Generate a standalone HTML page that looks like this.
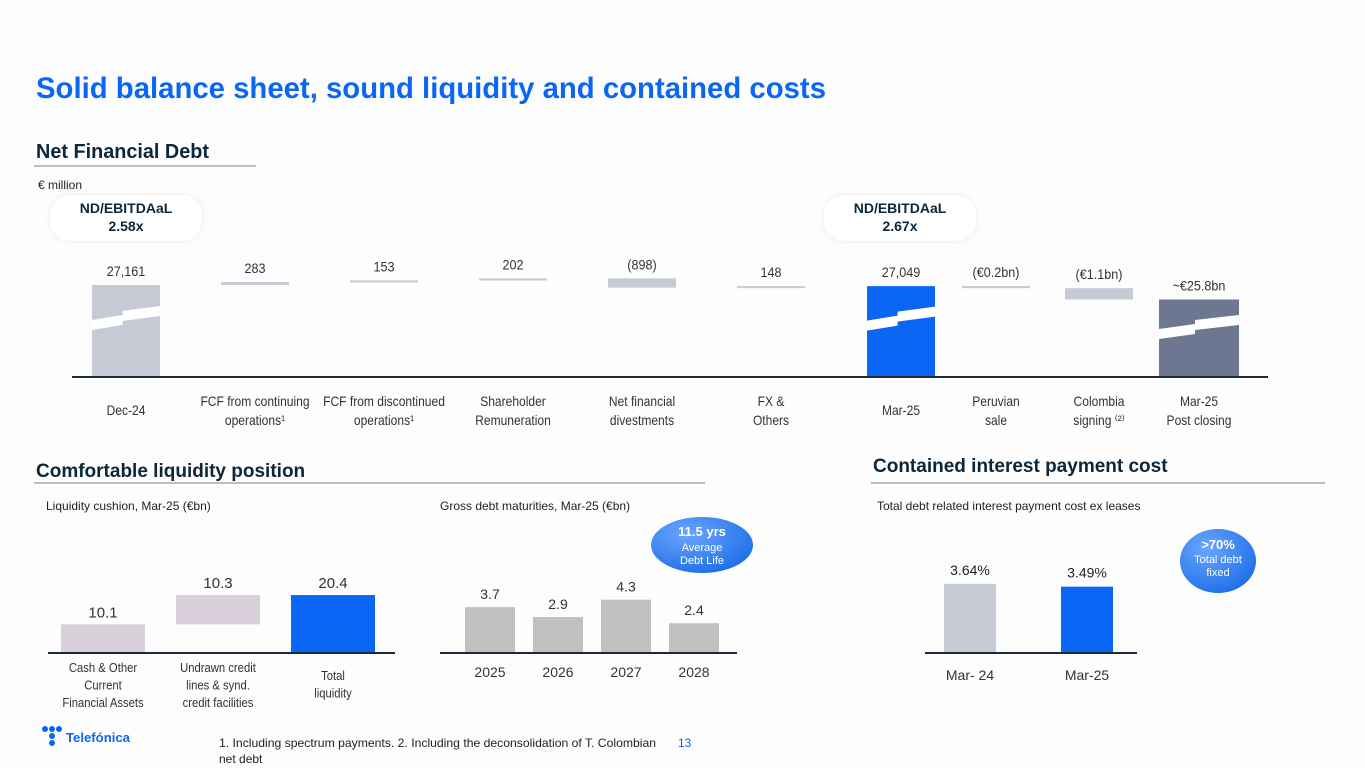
<!DOCTYPE html>
<html><head><meta charset="utf-8"><style>
html,body{margin:0;padding:0;background:#fdfdfd;}
svg{display:block;font-family:"Liberation Sans",sans-serif;}
</style></head><body>
<svg id="s" width="1365" height="768" viewBox="0 0 1365 768">
<defs>
<radialGradient id="bub" cx="35%" cy="30%" r="75%"><stop offset="0" stop-color="#6aa6ff"/><stop offset="1" stop-color="#1f6fe8"/></radialGradient>
<filter id="sh" x="-20%" y="-40%" width="140%" height="180%"><feDropShadow dx="0" dy="0" stdDeviation="3" flood-color="#000" flood-opacity="0.08"/></filter>
</defs>
<text x="36" y="98" font-size="30" font-weight="bold" fill="#0b66f5" textLength="790" lengthAdjust="spacingAndGlyphs">Solid balance sheet, sound liquidity and contained costs</text>
<text x="36" y="158" font-size="20" font-weight="bold" fill="#0b2739" textLength="173" lengthAdjust="spacingAndGlyphs">Net Financial Debt</text>
<line x1="34" y1="166" x2="256" y2="166" stroke="#999" stroke-width="1.2"/>
<text x="38" y="189" font-size="12" fill="#222">€ million</text>
<g filter="url(#sh)">
<rect x="50" y="195" width="152" height="46" rx="20" fill="#fff"/>
<rect x="824" y="195" width="152" height="46" rx="20" fill="#fff"/>
</g>
<text x="126" y="213" font-size="14" font-weight="bold" fill="#0b2739" text-anchor="middle">ND/EBITDAaL</text>
<text x="126" y="231" font-size="14" font-weight="bold" fill="#0b2739" text-anchor="middle">2.58x</text>
<text x="900" y="213" font-size="14" font-weight="bold" fill="#0b2739" text-anchor="middle">ND/EBITDAaL</text>
<text x="900" y="231" font-size="14" font-weight="bold" fill="#0b2739" text-anchor="middle">2.67x</text>
<g id="wf"></g>
<line x1="72" y1="377" x2="1268" y2="377" stroke="#1c2b3a" stroke-width="2"/>

<text x="36" y="477" font-size="19" font-weight="bold" fill="#0b2739">Comfortable liquidity position</text>
<line x1="34" y1="483" x2="705" y2="483" stroke="#999" stroke-width="1.2"/>
<text x="873" y="472" font-size="19" font-weight="bold" fill="#0b2739">Contained interest payment cost</text>
<line x1="871" y1="483" x2="1325" y2="483" stroke="#999" stroke-width="1.2"/>
<text x="46" y="510" font-size="12" fill="#222">Liquidity cushion, Mar-25 (€bn)</text>
<text x="440" y="510" font-size="12" fill="#222">Gross debt maturities, Mar-25 (€bn)</text>
<text x="877" y="510" font-size="12" fill="#222">Total debt related interest payment cost ex leases</text>
<g id="liq"></g><g id="mat"></g><g id="int"></g>
<line x1="48" y1="653" x2="395" y2="653" stroke="#1c2b3a" stroke-width="2"/>
<line x1="440" y1="653" x2="737" y2="653" stroke="#1c2b3a" stroke-width="2"/>
<line x1="925" y1="653" x2="1137" y2="653" stroke="#1c2b3a" stroke-width="2"/>
<ellipse cx="702" cy="545" rx="51" ry="28" fill="url(#bub)"/>
<text x="702" y="536" font-size="13" font-weight="bold" fill="#fff" text-anchor="middle">11.5 yrs</text>
<text x="702" y="551" font-size="11" fill="#fff" text-anchor="middle">Average</text>
<text x="702" y="564" font-size="11" fill="#fff" text-anchor="middle">Debt Life</text>
<ellipse cx="1218" cy="561" rx="38" ry="32" fill="url(#bub)"/>
<text x="1218" y="549" font-size="13" font-weight="bold" fill="#fff" text-anchor="middle">&gt;70%</text>
<text x="1218" y="563" font-size="11" fill="#fff" text-anchor="middle">Total debt</text>
<text x="1218" y="576" font-size="11" fill="#fff" text-anchor="middle">fixed</text>

<g>
<circle cx="45" cy="729" r="3" fill="#0b66f5"/><circle cx="52" cy="729" r="3" fill="#0b66f5"/><circle cx="59" cy="729" r="3" fill="#0b66f5"/>
<circle cx="52" cy="736" r="3" fill="#0b66f5"/><circle cx="52" cy="743" r="3" fill="#0b66f5"/>
<text x="66" y="742" font-size="13" font-weight="bold" fill="#0b66f5" textLength="64" lengthAdjust="spacingAndGlyphs">Telefónica</text>
</g>
<text x="219" y="747" font-size="12" fill="#222" textLength="437" lengthAdjust="spacingAndGlyphs">1. Including spectrum payments. 2. Including the deconsolidation of T. Colombian</text>
<text x="219" y="763" font-size="12" fill="#222">net debt</text>
<text x="678" y="747" font-size="12" fill="#0b66f5">13</text>
</svg>
<script>
// Waterfall data
const wfCats = [["Dec-24"],["FCF from continuing","operations¹"],["FCF from discontinued","operations¹"],["Shareholder","Remuneration"],["Net financial","divestments"],["FX &","Others"],["Mar-25"],["Peruvian","sale"],["Colombia","signing ⁽²⁾"],["Mar-25","Post closing"]];
const wfValues = [27161, 283, 153, 202, -898, 148, 27049, -200, -1100, 25749];
const wfLabels = ["27,161","283","153","202","(898)","148","27,049","(€0.2bn)","(€1.1bn)","~€25.8bn"];
const wfTypes = ["total","delta","delta","delta","delta","delta","total","delta","delta","total"];
// Liquidity
const liqCats = [["Cash & Other","Current","Financial Assets"],["Undrawn credit","lines & synd.","credit facilities"],["Total","liquidity"]];
const liqValues = [10.1, 10.3, 20.4];
const liqTypes = ["delta","delta","total"];
// Maturities
const matCats = ["2025","2026","2027","2028"];
const matValues = [3.7, 2.9, 4.3, 2.4];
// Interest
const intCats = ["Mar- 24","Mar-25"];
const intValues = [3.64, 3.49];

const NS = "http://www.w3.org/2000/svg";
function mk(parent, tag, attrs){const e=document.createElementNS(NS,tag);for(const k in attrs)e.setAttribute(k,attrs[k]);parent.appendChild(e);return e;}
function txt(parent,x,y,s,size,fill,anchor){const t=mk(parent,"text",{x:x,y:y,"font-size":size,fill:fill,"text-anchor":anchor||"middle"});t.textContent=s;return t;}
function squeeze(t,f){const w=t.getComputedTextLength();if(w>0){t.setAttribute("textLength",(w*f).toFixed(1));t.setAttribute("lengthAdjust","spacingAndGlyphs");}}

// Waterfall axes
const wfBase=377, wfK=0.01029, wfOff=18217;
function wfY(v){return wfBase-(v-wfOff)*wfK;}
const wfCenters=[126,255,384,513,642,771,901,996,1099,1199];
function wfX(i){return wfCenters[i];}
const wfW=[68,68,68,68,68,68,68,68,68,80];
const wfColors=["#c6cad4","#c6cad4","#c6cad4","#c6cad4","#c6cad4","#c6cad4","#0b66f5","#c6cad4","#c6cad4","#6e7792"];
const wf=document.getElementById("wf");
let run=0;
wfValues.forEach((v,i)=>{
  let y0,y1;
  if(wfTypes[i]==="total"){run=v;y0=wfY(v);y1=wfBase;}
  else{const a=run,b=run+v;run=b;y0=wfY(Math.max(a,b));y1=wfY(Math.min(a,b));if(y1-y0<2){y1=y0+2;}}
  const x=wfX(i)-wfW[i]/2;
  const r=mk(wf,"rect",{x:x,y:y0,width:wfW[i],height:y1-y0,fill:wfColors[i]});
  
  
  if(wfTypes[i]==="total"){
    const my=y0+(y1-y0)*0.38, w=wfW[i];
    const p=mk(wf,"polygon",{points:`${x},${my} ${x+w*0.45},${my-5} ${x+w*0.45},${my-9} ${x+w},${my-14} ${x+w},${my-4} ${x+w*0.45},${my+1} ${x+w*0.45},${my+5} ${x},${my+10}`,fill:"#fff"});
    
    
  }
  const l=txt(wf,wfX(i),y0-9,wfLabels[i],14,"#333");
  
  
  squeeze(l,0.9);
  wfCats[i].forEach((s,j)=>{
    const c=txt(wf,wfX(i),wfCats[i].length===1?415:406+j*19,s,14,"#333");
    
    
    squeeze(c,0.86);
  });
});

// Liquidity
const liq=document.getElementById("liq");
const liqBase=653, liqK=2.84;
const liqCenters=[103,218,333];
function liqY(v){return liqBase-v*liqK;}
const liqColors=["#d8cfdb","#d8cfdb","#0b66f5"];
let lrun=0;
liqValues.forEach((v,i)=>{
  let y0,y1;
  if(liqTypes[i]==="total"){y0=liqY(v);y1=liqBase;}else{y0=liqY(lrun+v);y1=liqY(lrun);lrun+=v;}
  const r=mk(liq,"rect",{x:liqCenters[i]-42,y:y0,width:84,height:y1-y0,fill:liqColors[i]});
  
  
  const l=txt(liq,liqCenters[i],y0-7,v.toFixed(1),15,"#333");
  
  
  const n=liqCats[i].length;
  liqCats[i].forEach((s,j)=>{
    const c=txt(liq,liqCenters[i],(n===2?680:672)+j*17.5,s,12.5,"#333");
    
    
    squeeze(c,0.9);
  });
});

// Maturities
const mat=document.getElementById("mat");
const matK=12.4;
function matX(i){return 490+i*68;}
matValues.forEach((v,i)=>{
  const y0=653-v*matK;
  const r=mk(mat,"rect",{x:matX(i)-25,y:y0,width:50,height:653-y0,fill:"#c0c0c0"});
  
  
  const l=txt(mat,matX(i),y0-8,v.toFixed(1),14,"#333");
  
  
  const c=txt(mat,matX(i),677,matCats[i],14,"#333");
  
  
});

// Interest
const intg=document.getElementById("int");
const intK=19;
const intColors=["#c6cad4","#0b66f5"];
function intX(i){return 970+i*117;}
intValues.forEach((v,i)=>{
  const y0=653-v*intK;
  const r=mk(intg,"rect",{x:intX(i)-26,y:y0,width:52,height:653-y0,fill:intColors[i]});
  
  
  const l=txt(intg,intX(i),y0-9,v.toFixed(2)+"%",14,"#222");
  
  
  const c=txt(intg,intX(i),680,intCats[i],14,"#333");
  
  
});
</script>
</body></html>
